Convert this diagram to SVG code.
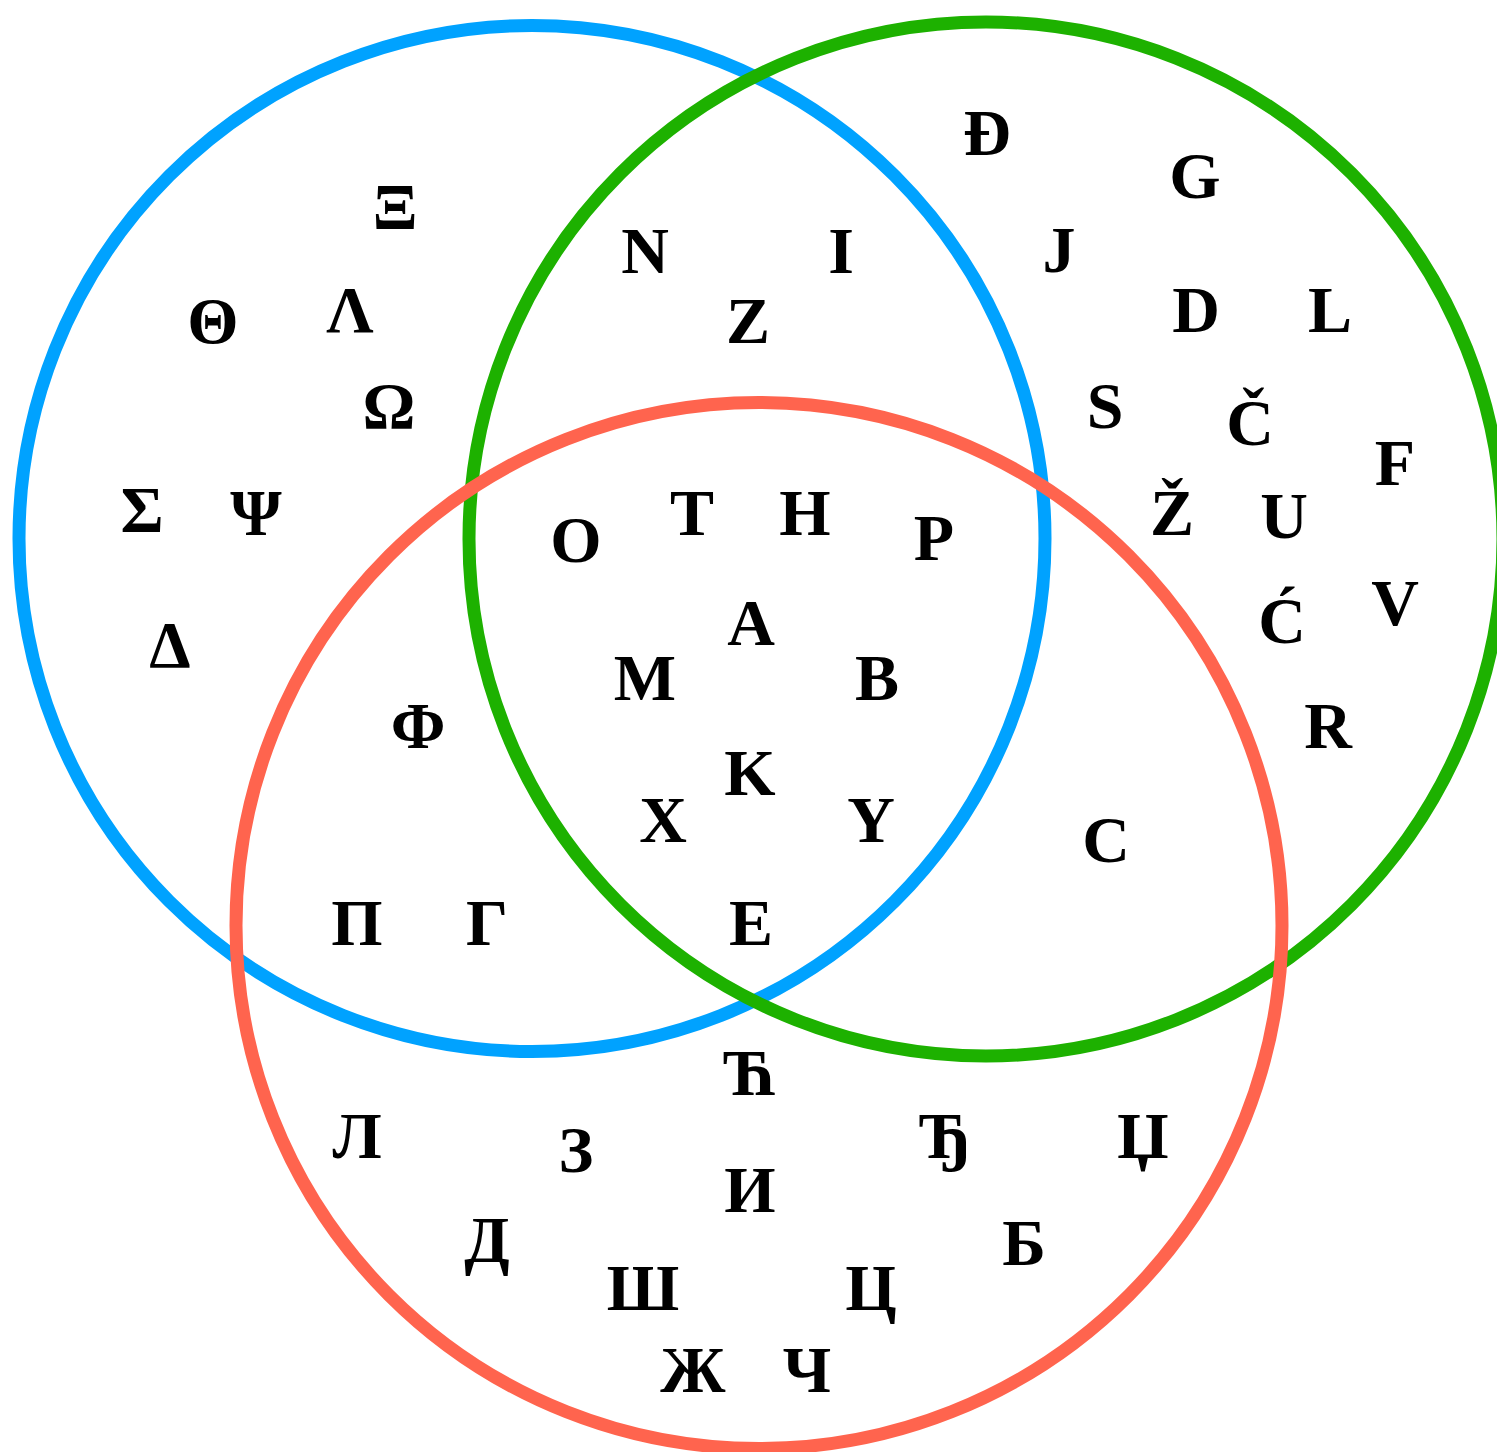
<svg xmlns="http://www.w3.org/2000/svg" width="1497" height="1452" viewBox="0 0 1497 1452">
<style>
.set{fill:none;stroke-width:13}
.l{font-family:"Liberation Serif","DejaVu Serif",serif;font-weight:bold;font-size:66px;fill:#000;text-anchor:middle}
</style>
<rect width="1497" height="1452" fill="#fff"/>
<g id="sets">
<circle id="set-blue" class="set" cx="532" cy="538.5" r="513" stroke="#00A2FF"/>
<circle id="set-green" class="set" cx="986" cy="539" r="517" stroke="#1DB100"/>
<circle id="set-red" class="set" cx="759" cy="925.5" r="523" stroke="#FF644E"/>
</g>
<g id="connectors"></g>
<g id="blue-only">
<text class="l" x="395" y="229">Ξ</text>
<text class="l" x="213" y="343">Θ</text>
<text class="l" x="350" y="332">Λ</text>
<text class="l" x="389" y="428">Ω</text>
<text class="l" x="142" y="532">Σ</text>
<text class="l" x="256" y="535">Ψ</text>
<text class="l" x="170" y="667">Δ</text>
</g>
<g id="blue-green">
<text class="l" x="645" y="273">N</text>
<text class="l" x="841" y="273">I</text>
<text class="l" x="748" y="343">Z</text>
</g>
<g id="green-only">
<text class="l" x="987" y="155">Đ</text>
<text class="l" x="1195" y="198">G</text>
<text class="l" x="1059" y="272">J</text>
<text class="l" x="1196" y="332">D</text>
<text class="l" x="1330" y="332">L</text>
<text class="l" x="1105" y="428">S</text>
<text class="l" x="1250" y="445">Č</text>
<text class="l" x="1395" y="485">F</text>
<text class="l" x="1172" y="535">Ž</text>
<text class="l" x="1284" y="538">U</text>
<text class="l" x="1282" y="643">Ć</text>
<text class="l" x="1395" y="625">V</text>
<text class="l" x="1328" y="748">R</text>
</g>
<g id="green-red">
<text class="l" x="1106" y="862">C</text>
</g>
<g id="all-three">
<text class="l" x="576" y="562">O</text>
<text class="l" x="692" y="535">T</text>
<text class="l" x="805" y="535">H</text>
<text class="l" x="934" y="560">P</text>
<text class="l" x="751" y="645">A</text>
<text class="l" x="645" y="700">M</text>
<text class="l" x="877" y="700">B</text>
<text class="l" x="750" y="795">K</text>
<text class="l" x="663" y="842">X</text>
<text class="l" x="871" y="842">Y</text>
<text class="l" x="751" y="945">E</text>
</g>
<g id="blue-red">
<text class="l" x="418" y="748">Φ</text>
<text class="l" x="357" y="945">Π</text>
<text class="l" x="487" y="945">Γ</text>
</g>
<g id="red-only">
<text class="l" x="751" y="1095">Ћ</text>
<text class="l" x="357" y="1158">Л</text>
<text class="l" x="576" y="1172">З</text>
<text class="l" x="945" y="1158">Ђ</text>
<text class="l" x="1143" y="1158">Џ</text>
<text class="l" x="750" y="1212">И</text>
<text class="l" x="487" y="1262">Д</text>
<text class="l" x="1024" y="1265">Б</text>
<text class="l" x="643" y="1310">Ш</text>
<text class="l" x="871" y="1310">Ц</text>
<text class="l" x="693" y="1392">Ж</text>
<text class="l" x="807" y="1392">Ч</text>
</g>
</svg>
